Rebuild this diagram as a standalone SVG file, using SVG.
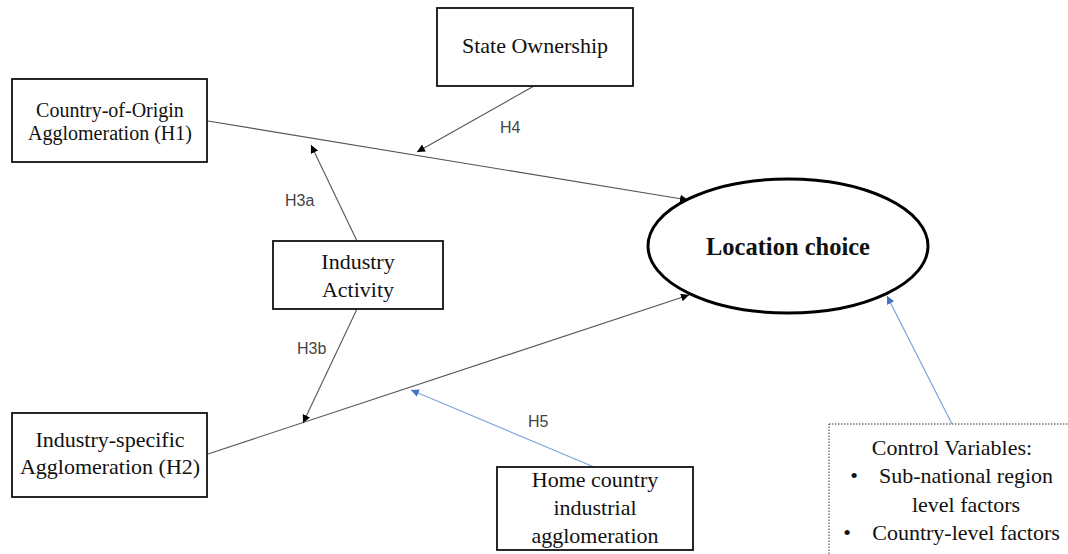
<svg xmlns="http://www.w3.org/2000/svg" width="1068" height="554" viewBox="0 0 1068 554">
<style>
.box{fill:#fff;stroke:#111;stroke-width:1.8}
.dot{fill:#fff;stroke:#333;stroke-width:1;stroke-dasharray:1.5 1.5}
.t{font-family:"Liberation Serif","Times New Roman",serif;fill:#111;text-anchor:middle}
.lbl{font-family:"Liberation Sans",Arial,sans-serif;font-size:16px;fill:#444}
.k{stroke:#555;stroke-width:1.1;fill:none}
.b{stroke:#7EA3DC;stroke-width:1.2;fill:none}
</style>
<defs>
<marker id="ak" markerUnits="userSpaceOnUse" markerWidth="9" markerHeight="9" refX="8" refY="4" orient="auto"><path d="M0,0 L8,4 L0,8 z" fill="#000"/></marker>
<marker id="ab" markerUnits="userSpaceOnUse" markerWidth="9" markerHeight="9" refX="8" refY="4" orient="auto"><path d="M0,0 L8,4 L0,8 z" fill="#4472C4"/></marker>
</defs>
<rect width="1068" height="554" fill="#fff"/>
<g id="connectors">
<line class="k" x1="208" y1="121" x2="688" y2="200" marker-end="url(#ak)"/>
<line class="k" x1="208" y1="454" x2="689" y2="295" marker-end="url(#ak)"/>
<line class="k" x1="357" y1="241" x2="311" y2="145" marker-end="url(#ak)"/>
<line class="k" x1="357" y1="309" x2="303" y2="423" marker-end="url(#ak)"/>
<line class="k" x1="534" y1="86" x2="417" y2="152" marker-end="url(#ak)"/>
<line class="b" x1="594" y1="467" x2="411" y2="390" marker-end="url(#ab)"/>
<line class="b" x1="952" y1="424" x2="887" y2="296" marker-end="url(#ab)"/>
<text class="lbl" x="500" y="133">H4</text>
<text class="lbl" x="285" y="206">H3a</text>
<text class="lbl" x="297" y="354">H3b</text>
<text class="lbl" x="528" y="427">H5</text>
</g>
<g id="state-ownership">
<rect class="box" x="437" y="8" width="196" height="78"/>
<text class="t" x="535" y="53" font-size="22">State Ownership</text>
</g>
<g id="country-of-origin">
<rect class="box" x="12" y="79" width="195" height="83"/>
<text class="t" x="110" y="117" font-size="20">Country-of-Origin</text>
<text class="t" x="110" y="140" font-size="20">Agglomeration (H1)</text>
</g>
<g id="industry-activity">
<rect class="box" x="273" y="241" width="170" height="68"/>
<text class="t" x="358" y="269" font-size="22">Industry</text>
<text class="t" x="358" y="297" font-size="22">Activity</text>
</g>
<g id="industry-specific">
<rect class="box" x="12" y="413" width="195" height="84"/>
<text class="t" x="110" y="447" font-size="22">Industry-specific</text>
<text class="t" x="110" y="474" font-size="22">Agglomeration (H2)</text>
</g>
<g id="home-country">
<rect class="box" x="497" y="467" width="196" height="83"/>
<text class="t" x="595" y="487" font-size="22">Home country</text>
<text class="t" x="595" y="515" font-size="22">industrial</text>
<text class="t" x="595" y="543" font-size="22">agglomeration</text>
</g>
<g id="location-choice">
<ellipse cx="788" cy="246" rx="140" ry="67" fill="#fff" stroke="#000" stroke-width="3"/>
<text class="t" x="788" y="255" font-size="24.5" font-weight="bold" fill="#000">Location choice</text>
</g>
<g id="control-variables">
<rect class="dot" x="829" y="424" width="260" height="150"/>
<text class="t" x="952" y="455" font-size="22">Control Variables:</text>
<text class="t" x="854" y="483" font-size="22">•</text>
<text class="t" x="966" y="483" font-size="22">Sub-national region</text>
<text class="t" x="966" y="512" font-size="22">level factors</text>
<text class="t" x="847" y="540" font-size="22">•</text>
<text class="t" x="966" y="540" font-size="22">Country-level factors</text>
</g>
</svg>
